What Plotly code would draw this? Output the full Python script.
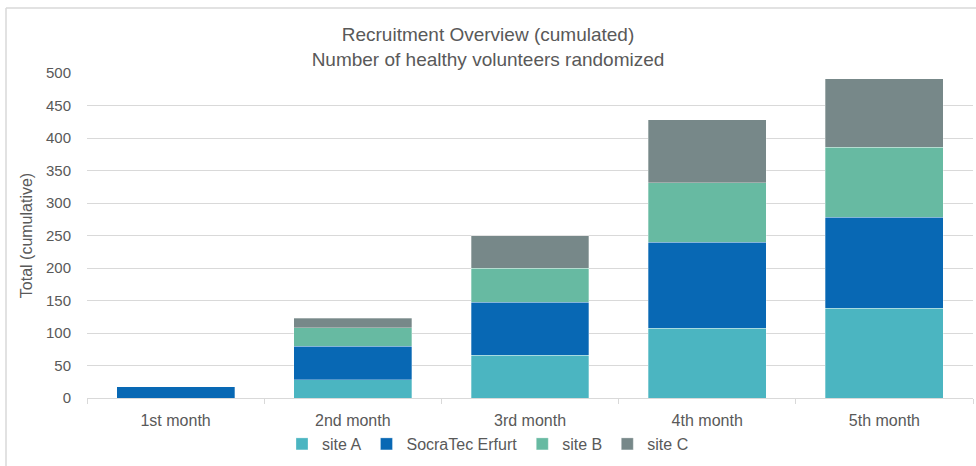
import plotly.graph_objects as go

months = ["1st month", "2nd month", "3rd month", "4th month", "5th month"]
site_a = [0, 28, 66, 107, 138]
socratec = [17, 52, 81, 133, 140]
site_b = [0, 28, 53, 91, 108]
site_c = [0, 15, 50, 97, 105]

series = [
    ("site A", site_a, "#4BB5C1"),
    ("SocraTec Erfurt", socratec, "#0868B4"),
    ("site B", site_b, "#67BAA2"),
    ("site C", site_c, "#778889"),
]

fig = go.Figure()
for name, vals, col in series:
    fig.add_trace(go.Bar(
        x=months, y=vals, name=name,
        marker=dict(color=col, line=dict(color="rgba(255,255,255,0.5)", width=0.6)),
    ))

font_family = "Liberation Sans, Arial"
W, H = 976, 466
L, R, T, B = 87, 3, 73, 68
pw, ph = W - L - R, H - T - B


def px_x(x):
    return (x - L) / pw


def px_y(y):
    return (H - B - y) / ph


fig.update_layout(
    width=W, height=H,
    barmode="stack", bargap=0.335,
    paper_bgcolor="white", plot_bgcolor="white",
    margin=dict(l=L, r=R, t=T, b=B, autoexpand=False),
    font=dict(family=font_family, color="#595959", size=15),
    title=dict(
        text="Recruitment Overview (cumulated)<br>Number of healthy volunteers randomized",
        x=0.5, xref="container", xanchor="center",
        y=1 - 41 / H, yref="container", yanchor="middle",
        font=dict(size=19, color="#595959", family=font_family),
    ),
    showlegend=True,
    legend=dict(
        orientation="h", x=0.5, xref="container", xanchor="center",
        y=1 - 444 / H, yref="container", yanchor="middle",
        font=dict(size=16, color="#595959"), traceorder="normal",
        itemwidth=30, bgcolor="rgba(0,0,0,0)",
    ),
    xaxis=dict(
        showline=True, linecolor="#D9D9D9", linewidth=1,
        ticks="outside", tickson="boundaries", ticklen=5, tickcolor="#D9D9D9",
        showgrid=False, tickfont=dict(size=16, color="#595959"),
        ticklabelstandoff=8,
    ),
    yaxis=dict(
        range=[0, 500], dtick=50, showgrid=True, gridcolor="#D9D9D9", gridwidth=1,
        zeroline=False, showline=False, ticks="",
        tickfont=dict(size=15, color="#595959"), ticklabelstandoff=15,
        title=dict(text="Total (cumulative)", font=dict(size=16, color="#595959"), standoff=9),
    ),
    shapes=[
        dict(type="line", xref="paper", yref="paper",
             x0=px_x(6), x1=px_x(W + 10), y0=px_y(8), y1=px_y(8),
             line=dict(color="#D9D9D9", width=1.5)),
        dict(type="line", xref="paper", yref="paper",
             x0=px_x(6), x1=px_x(6), y0=px_y(8), y1=px_y(H + 10),
             line=dict(color="#D9D9D9", width=1.5)),
    ],
)

fig.write_html(
    "out.html",
    config={"displayModeBar": False},
    post_script="document.body.style.margin='0';document.body.style.padding='0';window.dispatchEvent(new Event('resize'));",
)
